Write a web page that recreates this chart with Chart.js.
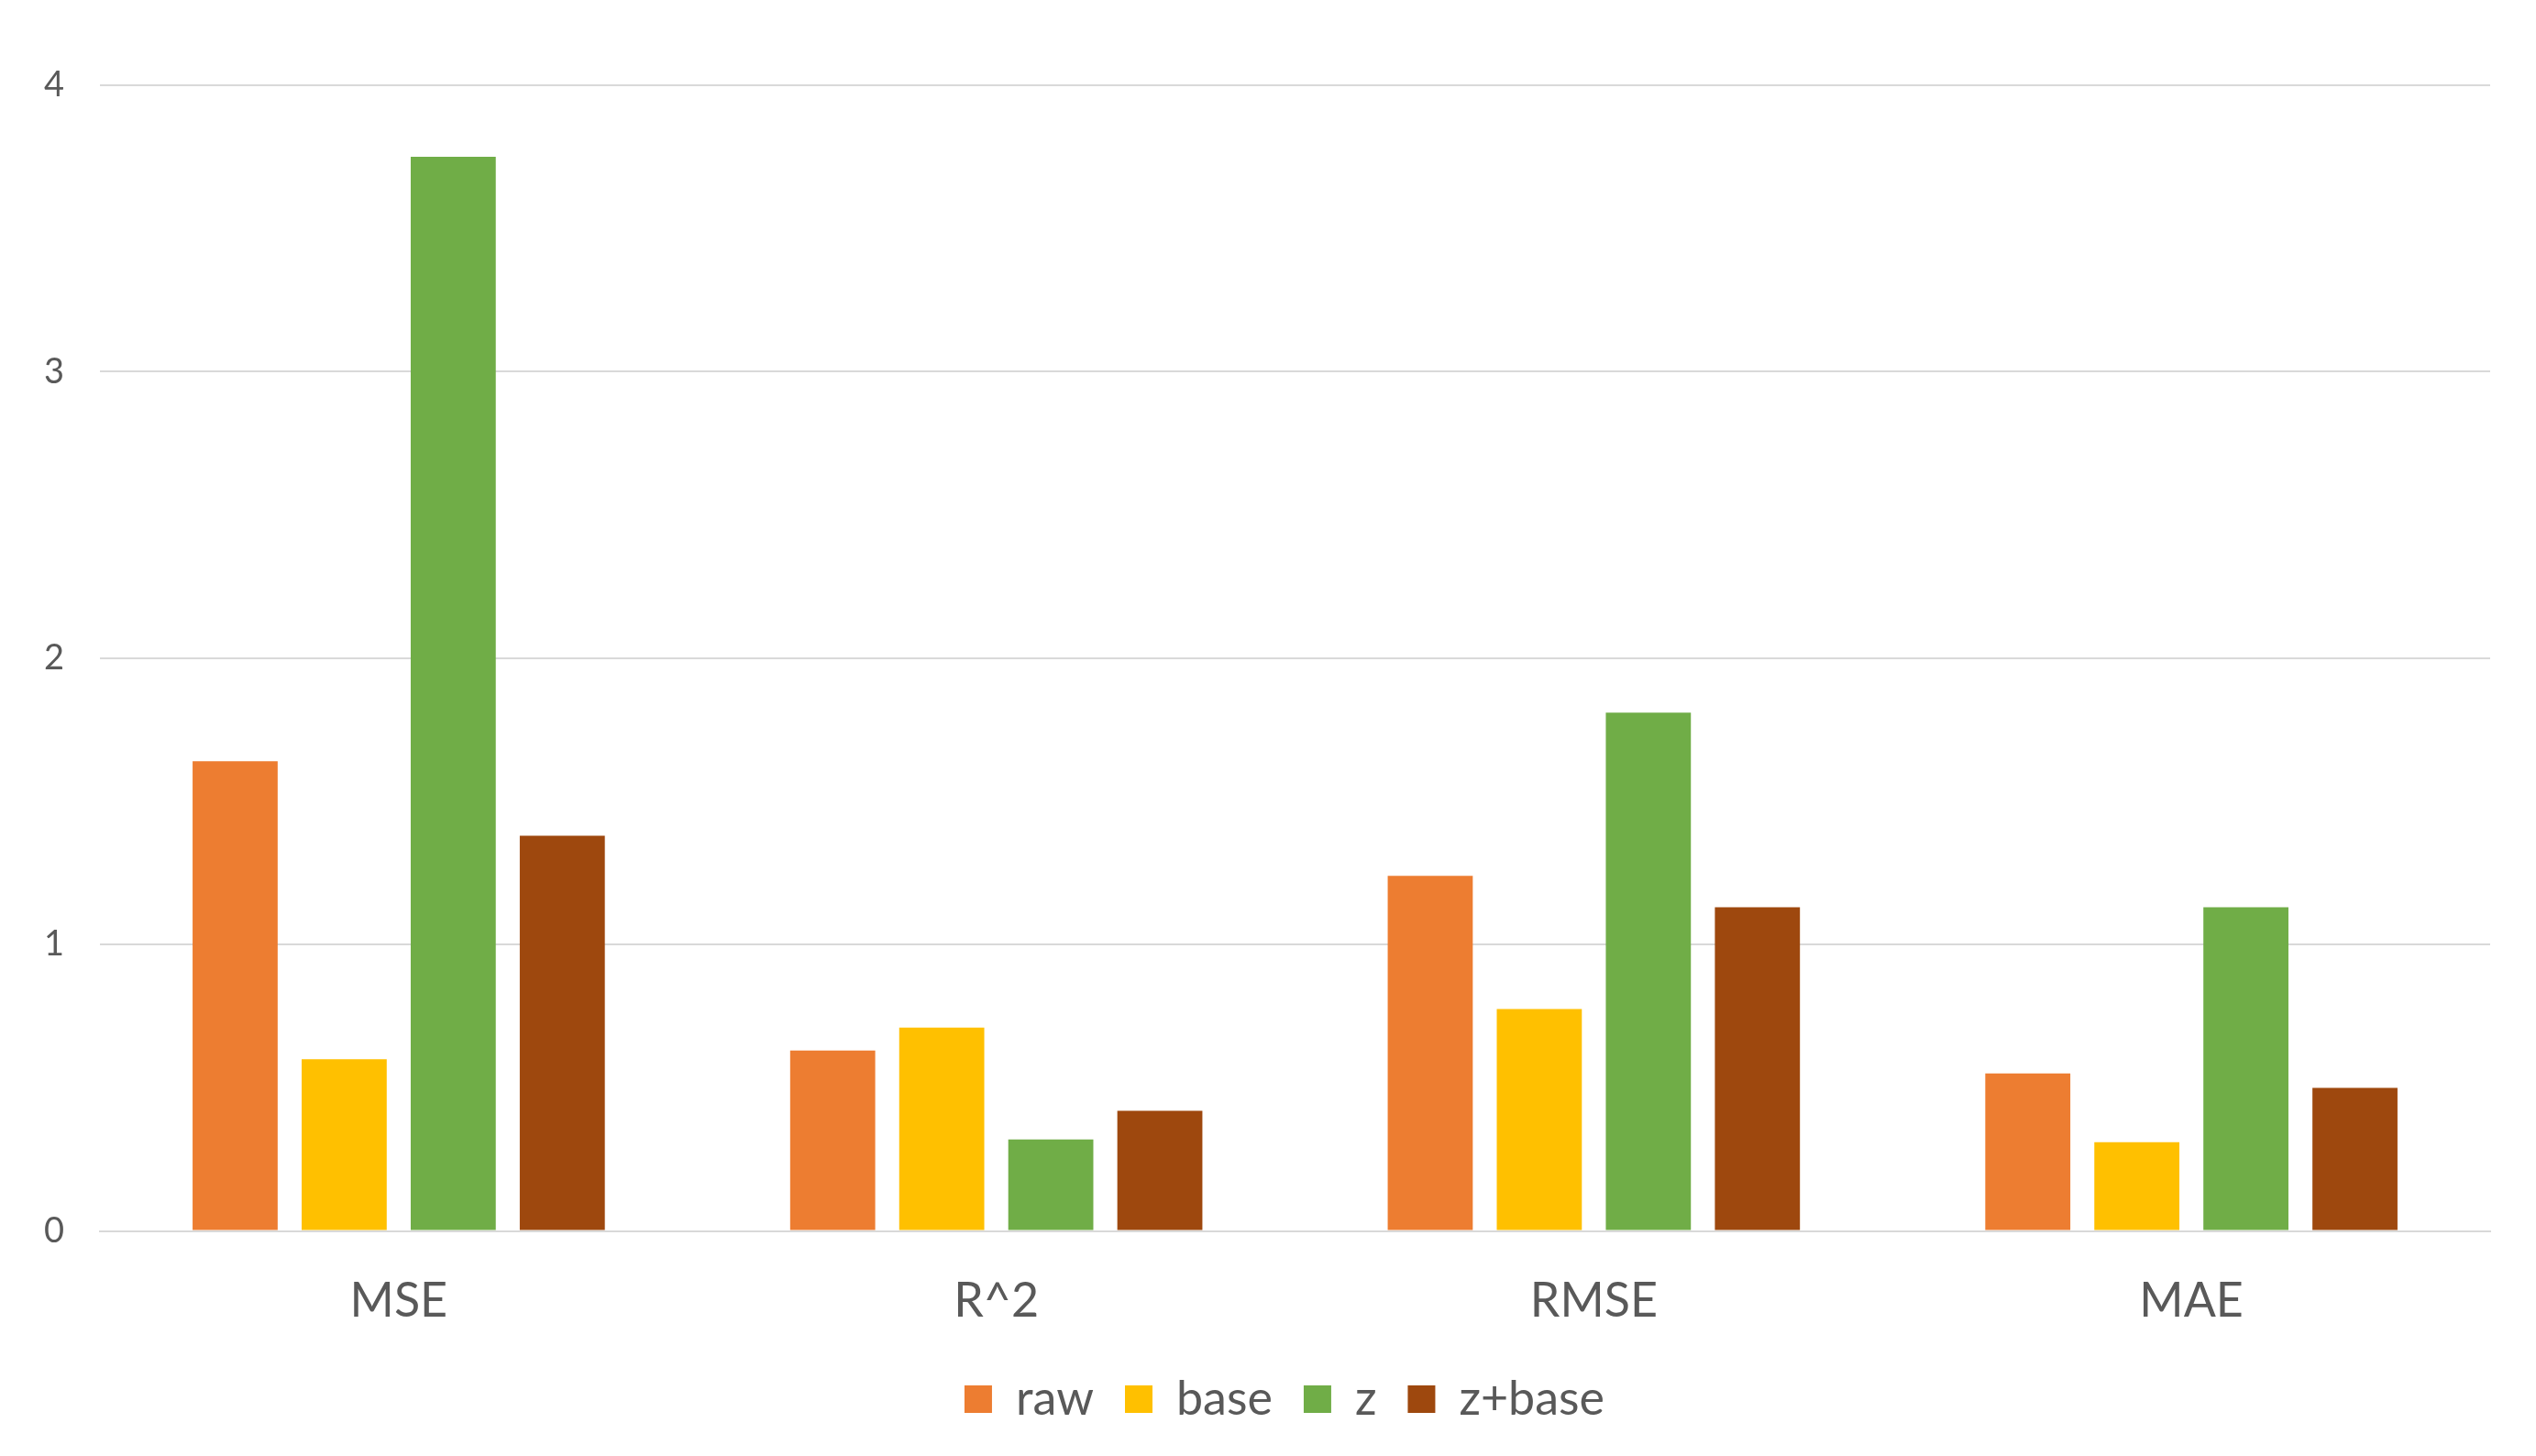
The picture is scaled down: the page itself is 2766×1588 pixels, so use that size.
<!DOCTYPE html>
<html>
<head>
<meta charset="utf-8">
<script src="https://cdn.jsdelivr.net/npm/chart.js@4.4.1/dist/chart.umd.min.js"></script>
<style>
  html, body { margin: 0; padding: 0; background: #fff; }
  #wrap { width: 2766px; height: 1588px; }
</style>
</head>
<body>
<div id="wrap"><canvas id="myChart" width="2766" height="1588"></canvas></div>
<script>
// data
var categories = ['MSE', 'R^2', 'RMSE', 'MAE'];
var seriesNames = ['raw', 'base', 'z', 'z+base'];
var rawValues = [1.64, 0.63, 1.24, 0.55];
var baseValues = [0.60, 0.71, 0.775, 0.31];
var zValues = [3.75, 0.32, 1.81, 1.13];
var zBaseValues = [1.38, 0.42, 1.13, 0.50];
var yTicks = [0, 1, 2, 3, 4];

var colors = ['#ED7D31', '#FFC000', '#70AD47', '#9E480E'];
var allValues = [rawValues, baseValues, zValues, zBaseValues];

var textColor = '#595959';
var fontFamily = 'Lato, "Open Sans", sans-serif';

var datasets = seriesNames.map(function (name, i) {
    return {
        label: name,
        data: allValues[i],
        backgroundColor: colors[i],
        borderWidth: 0,
        categoryPercentage: 0.73,
        barPercentage: 0.78
    };
});

// the original legend sits centred under the plot area, not the canvas
var legendShift = {
    id: 'legendShift',
    afterUpdate: function (chart) {
        chart.legend.left += 43;
        chart.legend.right += 43;
    }
};

var ctx = document.getElementById('myChart').getContext('2d');
var myChart = new Chart(ctx, {
    type: 'bar',
    data: {
        labels: categories,
        datasets: datasets
    },
    plugins: [legendShift],
    options: {
        responsive: false,
        animation: false,
        layout: {
            padding: { top: 93, right: 50, bottom: 26, left: 0 }
        },
        plugins: {
            tooltip: { enabled: false },
            legend: {
                position: 'bottom',
                labels: {
                    boxWidth: 30,
                    boxHeight: 30,
                    padding: 34,
                    color: textColor,
                    font: { family: fontFamily, size: 52 }
                }
            }
        },
        scales: {
            x: {
                grid: { display: false },
                border: { display: true, color: '#d9d9d9', width: 2 },
                ticks: {
                    color: textColor,
                    padding: 37,
                    font: { family: fontFamily, size: 52 }
                },
                afterFit: function (axis) {
                    axis.height -= 21;
                }
            },
            y: {
                min: 0,
                max: 4,
                afterBuildTicks: function (axis) {
                    axis.ticks = yTicks.map(function (v) { return { value: v }; });
                },
                afterFit: function (axis) {
                    axis.width = 109;
                },
                grid: { color: '#d9d9d9', lineWidth: 2, drawTicks: false },
                border: { display: false },
                ticks: {
                    color: textColor,
                    padding: 39,
                    font: { family: fontFamily, size: 38 }
                }
            }
        }
    }
});
</script>
</body>
</html>
